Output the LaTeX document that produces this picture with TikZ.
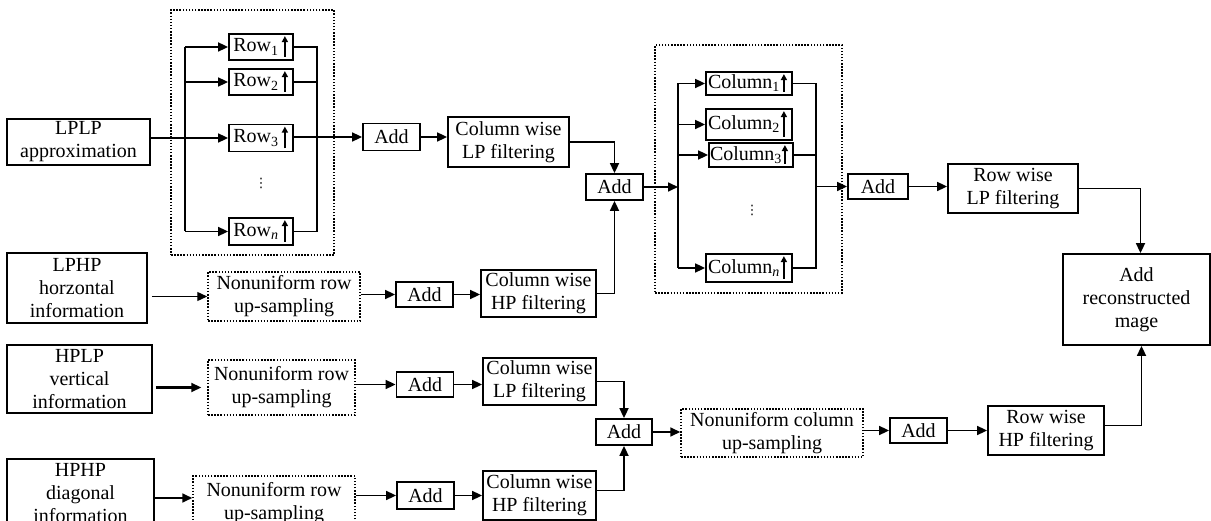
\documentclass[tikz,border=0pt]{standalone}
\usepackage{fontspec}
\setmainfont{Liberation Serif}
\newfontfamily\symfont{DejaVu Sans}
\usetikzlibrary{arrows.meta}

\tikzset{
  blk/.style={draw, line width=1.8pt, inner sep=0pt, align=center,
              font=\fontsize{20}{23}\selectfont},
  dotblk/.style={blk, dash pattern=on 1.5pt off 1.6pt, line width=1.5pt},
  sz/.style 2 args={minimum width=#1pt, minimum height=#2pt},
  wire/.style={line width=1.7pt},
  flow/.style={line width=1.7pt, -{Triangle[length=10pt,width=9pt]}},
  riser/.style={line width=2pt, -{Triangle[length=6pt,width=6pt]}},
  vdotsnode/.style={inner sep=0pt, font=\symfont\fontsize{13}{13}\selectfont},
}

% upward arrow drawn at the right end of an up-sampling block
\newcommand\riseat[1]{\draw[riser] ([xshift=-9pt,yshift=4pt]#1.south east) -- ([xshift=-9pt,yshift=-3pt]#1.north east);}

\begin{document}
\begin{tikzpicture}[x=1pt,y=-1pt]
\clip (0,0) rectangle (1211,521);

% ---------- input sub-bands ----------
\node[blk, sz={143}{46}] (lplp) at (78.5,142) {LPLP\\approximation};
\node[blk, sz={140}{70}] (lphp) at (77,288) {LPHP\\horzontal\\information};
\node[blk, sz={145}{68}] (hplp) at (79.5,379) {HPLP\\vertical\\information};
\node[blk, sz={147}{68}] (hphp) at (80.5,493) {HPHP\\diagonal\\information};

% ---------- row up-sampling bank ----------
\node[dotblk, sz={163}{245}] (rowgrp) at (252.5,132.5) {};
\node[blk, sz={64}{26}] (row1) at (261,47) {Row\textsubscript{1}\hspace{10pt}};
\node[blk, sz={64}{26}] (row2) at (261,82) {Row\textsubscript{2}\hspace{10pt}};
\node[blk, sz={64}{27}] (row3) at (261,138) {Row\textsubscript{3}\hspace{10pt}};
\node[blk, sz={64}{27}] (rown) at (261,231.5) {Row\textsubscript{\itshape n}\hspace{10pt}};
\node[vdotsnode] (rdots) at (261,183) {⋮};
\riseat{row1}\riseat{row2}\riseat{row3}\riseat{rown}

\node[blk, sz={57}{27}] (add1) at (391.5,137) {Add};
\node[blk, sz={121}{50}] (collp) at (508.5,142) {Column wise\\LP filtering};
\node[blk, sz={57}{26}] (add2) at (614.5,187) {Add};

\node[dotblk, sz={152}{49}] (nonuni1) at (284,296.5) {Nonuniform row\\up-sampling};
\node[blk, sz={57}{25}] (add3) at (424.5,294.5) {Add};
\node[blk, sz={115}{47}] (colhp) at (538.5,293.5) {Column wise\\HP filtering};

% ---------- column up-sampling bank ----------
\node[dotblk, sz={187}{248}] (colgrp) at (748.5,169) {};
\node[blk, sz={86}{23}] (col1) at (749,83.5) {Column\textsubscript{1}\hspace{10pt}};
\node[blk, sz={86}{31}] (col2) at (749,124.5) {Column\textsubscript{2}\hspace{10pt}};
\node[blk, sz={84}{24}] (col3) at (751,155) {Column\textsubscript{3}\hspace{10pt}};
\node[blk, sz={86}{28}] (coln) at (749,268) {Column\textsubscript{\itshape n}\hspace{10pt}};
\node[vdotsnode] (cdots) at (752,210) {⋮};
\riseat{col1}\riseat{col2}\riseat{col3}\riseat{coln}

\node[blk, sz={60}{25}] (add4) at (878,186.5) {Add};
\node[blk, sz={130}{49}] (rowlp) at (1013,188.5) {Row wise\\LP filtering};
\node[blk, sz={147}{91}] (recon) at (1136.5,299.5) {Add\\reconstructed\\mage};

% ---------- high-pass branch ----------
\node[dotblk, sz={147}{55}] (nonuni2) at (281.5,387.5) {Nonuniform row\\up-sampling};
\node[blk, sz={57}{25}] (add5) at (425,384.5) {Add};
\node[blk, sz={113}{47}] (collp2) at (539.5,381.5) {Column wise\\LP filtering};

\node[dotblk, sz={162}{55}] (nonuni3) at (274,503.5) {Nonuniform row\\up-sampling};
\node[blk, sz={57}{27}] (add8) at (425.5,495.5) {Add};
\node[blk, sz={113}{49}] (colhp2) at (539.5,495.5) {Column wise\\HP filtering};

\node[blk, sz={56}{26}] (add6) at (624,432) {Add};
\node[dotblk, sz={182}{48}] (nonunic) at (772,433) {Nonuniform column\\up-sampling};
\node[blk, sz={57}{25}] (add7) at (918.5,430.5) {Add};
\node[blk, sz={116}{49}] (rowhp) at (1046,430.5) {Row wise\\HP filtering};

% ---------- connectors: row bank ----------
\coordinate (rbl) at (185,0);
\coordinate (rbr) at (317,0);
\draw[flow] (lplp.east |- row3) -- (row3.west);
\draw[wire] (rbl |- row1) -- (rbl |- rown);
\draw[flow] (rbl |- row1) -- (row1.west);
\draw[flow] (rbl |- row2) -- (row2.west);
\draw[flow] (rbl |- rown) -- (rown.west);
\draw[wire] (row1.east) -| (rbr |- rown) -- (rown.east);
\draw[wire] (row2.east) -- (rbr |- row2);
\draw[flow] (row3.east |- add1) -- (add1.west);
\draw[flow] (add1.east) -- (add1.east -| collp.west);
\draw[flow] (collp.east) -| (add2.north);

\draw[flow, line width=1.3pt, shorten <=4pt] (lphp.east |- nonuni1) -- (nonuni1.west);
\draw[flow] (nonuni1.east |- add3) -- (add3.west);
\draw[flow] (add3.east) -- (add3.east -| colhp.west);
\draw[flow] (colhp.east) -| (add2.south);

% ---------- connectors: column bank ----------
\coordinate (cbl) at (678,0);
\coordinate (cbr) at (816,0);
\draw[flow] (add2.east) -- (cbl |- add2);
\draw[wire] (cbl |- col1) -- (cbl |- coln);
\draw[flow] (cbl |- col1) -- (col1.west);
\draw[flow] (cbl |- col2) -- (col2.west);
\draw[flow] (cbl |- col3) -- (col3.west);
\draw[flow] (cbl |- coln) -- (coln.west);
\draw[wire] (col1.east) -| (cbr |- coln) -- (coln.east);
\draw[wire] (col3.east) -- (cbr |- col3);
\draw[flow] (cbr |- add4) -- (add4.west);
\draw[flow] (add4.east) -- (add4.east -| rowlp.west);
\draw[flow] (rowlp.east) -| ([xshift=4pt]recon.north);

% ---------- connectors: high-pass branch ----------
\draw[flow, line width=2.2pt, shorten <=3pt, shorten >=6pt] (hplp.east |- nonuni2) -- (nonuni2.west);
\draw[flow] (nonuni2.east |- add5) -- (add5.west);
\draw[flow] (add5.east) -- (add5.east -| collp2.west);
\draw[flow] (collp2.east) -| (add6.north);

\draw[flow] ([yshift=-5pt]hphp.east) -- ([yshift=-5pt]hphp.east -| nonuni3.west);
\draw[flow] (nonuni3.east |- add8) -- (add8.west);
\draw[flow] (add8.east) -- (add8.east -| colhp2.west);
\draw[flow] ([yshift=5pt]colhp2.east) -| (add6.south);

\draw[flow] (add6.east) -- (add6.east -| nonunic.west);
\draw[flow] (nonunic.east |- add7) -- (add7.west);
\draw[flow] (add7.east) -- (add7.east -| rowhp.west);
\draw[flow] ([yshift=5pt]rowhp.east) -| ([xshift=5pt]recon.south);
\end{tikzpicture}
\end{document}
